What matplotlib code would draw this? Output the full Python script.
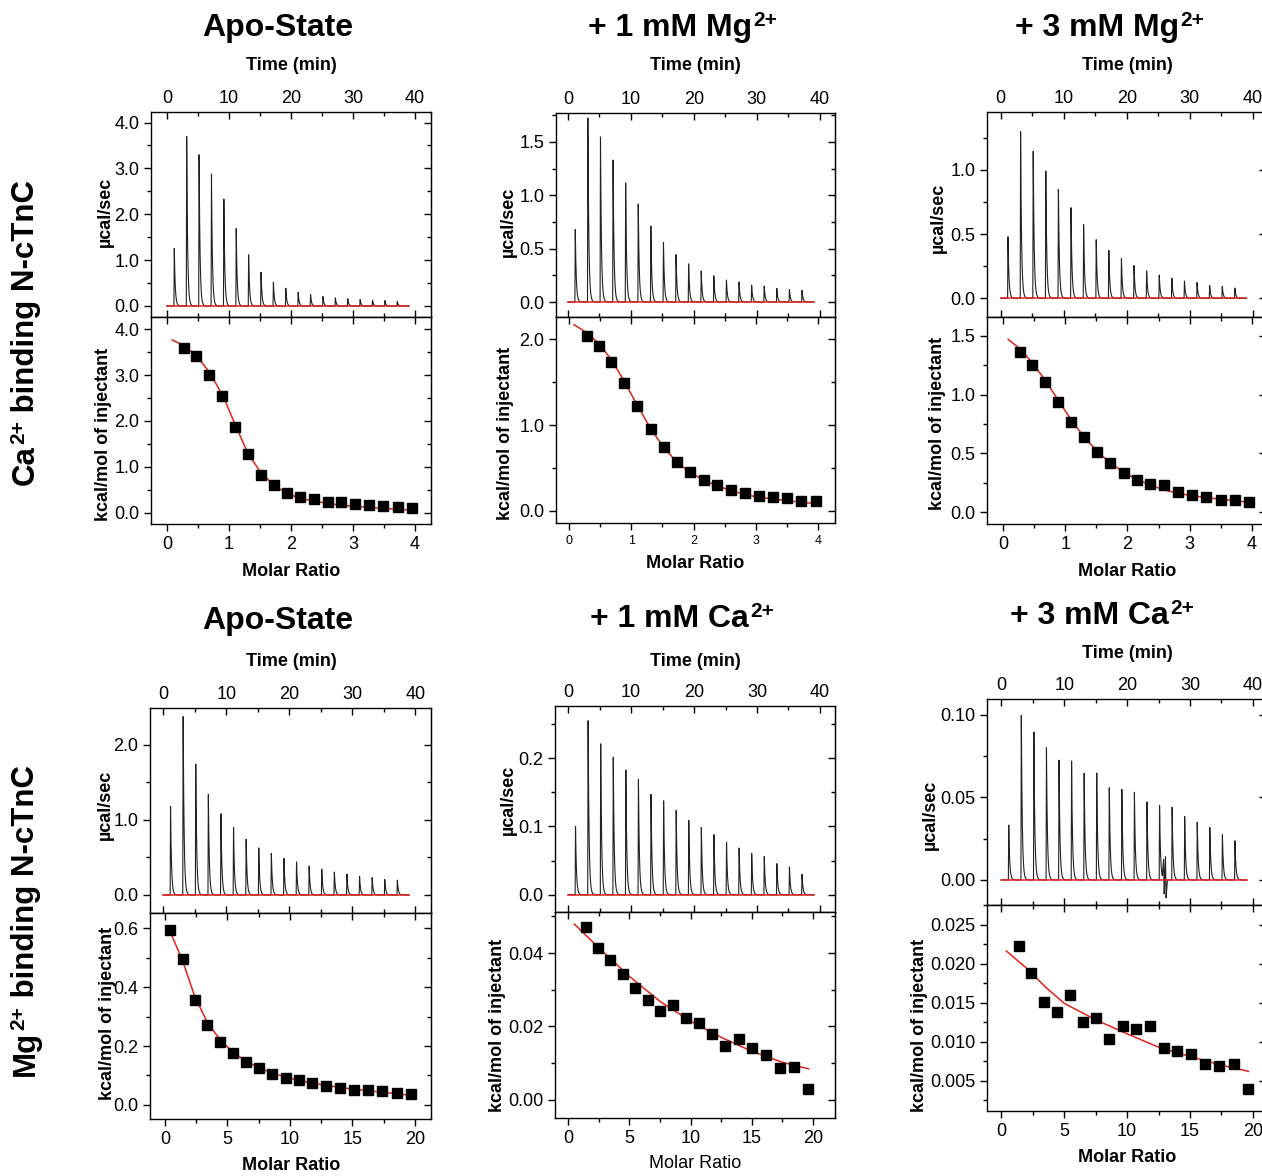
import numpy as np
import matplotlib
matplotlib.use("Agg")
import matplotlib.pyplot as plt
from matplotlib.ticker import MultipleLocator, FormatStrFormatter, NullFormatter

plt.rcParams['font.family'] = ['Liberation Sans', 'DejaVu Sans']

W, H = 1262, 1176

# injection times (min) and length of each run
inj_times = [1.1, 3.1, 5.1, 7.1, 9.1, 11.1, 13.1, 15.1, 17.1, 19.1,
             21.1, 23.1, 25.1, 27.1, 29.1, 31.1, 33.1, 35.1, 37.1]
run_span = [0.0, 39.0]

# ---- Ca2+ binding N-cTnC (top row) ----
ca_apo_peaks = [1.26, 3.73, 3.37, 2.92, 2.35, 1.69, 1.13, 0.75, 0.52, 0.39,
                0.30, 0.25, 0.21, 0.18, 0.16, 0.14, 0.13, 0.12, 0.10]
ca_apo_x = [0.27, 0.47, 0.68, 0.88, 1.09, 1.30, 1.51, 1.72, 1.94, 2.15,
            2.37, 2.59, 2.81, 3.04, 3.26, 3.49, 3.73, 3.96]
ca_apo_y = [3.60, 3.42, 3.00, 2.55, 1.86, 1.27, 0.83, 0.60, 0.43, 0.33,
            0.29, 0.22, 0.22, 0.18, 0.17, 0.15, 0.13, 0.09]
ca_apo_fit_x = [0.08, 0.27, 0.48, 0.69, 0.90, 1.09, 1.30, 1.51, 1.72, 1.93,
                2.15, 2.37, 2.60, 2.80, 3.00, 3.50, 3.95]
ca_apo_fit_y = [3.77, 3.65, 3.42, 3.05, 2.55, 1.95, 1.30, 0.88, 0.60, 0.42,
                0.31, 0.25, 0.20, 0.16, 0.14, 0.09, 0.05]

ca_mg1_peaks = [0.68, 1.74, 1.58, 1.35, 1.125, 0.92, 0.72, 0.57, 0.45, 0.36,
                0.29, 0.25, 0.21, 0.19, 0.16, 0.15, 0.13, 0.12, 0.11]
ca_mg1_x = [0.28, 0.48, 0.68, 0.88, 1.09, 1.31, 1.52, 1.73, 1.94, 2.16,
            2.38, 2.60, 2.83, 3.05, 3.28, 3.50, 3.73, 3.96]
ca_mg1_y = [2.04, 1.92, 1.73, 1.49, 1.22, 0.95, 0.74, 0.57, 0.45, 0.36,
            0.30, 0.24, 0.21, 0.17, 0.16, 0.15, 0.12, 0.12]
ca_mg1_fit_x = [0.08, 0.28, 0.48, 0.68, 0.88, 1.09, 1.31, 1.52, 1.73, 1.94,
                2.16, 2.38, 2.60, 2.83, 3.05, 3.50, 3.96]
ca_mg1_fit_y = [2.17, 2.08, 1.95, 1.76, 1.52, 1.24, 0.96, 0.74, 0.57, 0.45,
                0.36, 0.29, 0.24, 0.19, 0.16, 0.12, 0.085]

ca_mg3_peaks = [0.48, 1.31, 1.17, 1.005, 0.855, 0.706, 0.58, 0.465, 0.377, 0.31,
                0.255, 0.216, 0.184, 0.158, 0.135, 0.122, 0.10, 0.094, 0.08]
ca_mg3_x = [0.27, 0.47, 0.68, 0.89, 1.09, 1.30, 1.51, 1.72, 1.94, 2.15,
            2.37, 2.59, 2.82, 3.04, 3.27, 3.50, 3.73, 3.96]
ca_mg3_y = [1.36, 1.25, 1.11, 0.94, 0.77, 0.64, 0.51, 0.42, 0.33, 0.27,
            0.24, 0.23, 0.17, 0.145, 0.13, 0.10, 0.10, 0.09]
ca_mg3_fit_x = [0.08, 0.27, 0.47, 0.68, 0.89, 1.09, 1.30, 1.51, 1.72, 1.94,
                2.15, 2.37, 2.59, 2.82, 3.04, 3.50, 3.96]
ca_mg3_fit_y = [1.47, 1.39, 1.27, 1.12, 0.95, 0.79, 0.64, 0.52, 0.42, 0.34,
                0.28, 0.23, 0.19, 0.16, 0.14, 0.11, 0.085]

# ---- Mg2+ binding N-cTnC (bottom row) ----
mg_apo_peaks = [1.18, 2.40, 1.78, 1.36, 1.09, 0.90, 0.75, 0.64, 0.56, 0.49,
                0.44, 0.39, 0.35, 0.31, 0.28, 0.25, 0.235, 0.21, 0.20]
mg_apo_x = [0.40, 1.41, 2.37, 3.39, 4.43, 5.47, 6.51, 7.52, 8.59, 9.65,
            10.72, 11.81, 12.93, 14.03, 15.15, 16.29, 17.41, 18.56, 19.71]
mg_apo_y = [0.594, 0.497, 0.358, 0.272, 0.215, 0.177, 0.146, 0.125, 0.105, 0.093,
            0.083, 0.074, 0.065, 0.059, 0.052, 0.049, 0.048, 0.041, 0.036]
mg_apo_fit_x = [0.40, 1.41, 2.37, 3.39, 4.43, 5.47, 6.51, 7.52, 8.59, 9.65,
                10.72, 11.81, 12.93, 14.03, 15.15, 16.29, 17.41, 18.56, 19.87]
mg_apo_fit_y = [0.590, 0.490, 0.370, 0.280, 0.220, 0.178, 0.148, 0.126, 0.108, 0.094,
                0.083, 0.074, 0.066, 0.059, 0.053, 0.048, 0.043, 0.038, 0.031]

mg_ca1_peaks = [0.100, 0.2576, 0.2259, 0.2044, 0.1844, 0.1693, 0.1488, 0.1405, 0.1254, 0.1098,
                0.0985, 0.0893, 0.078, 0.0693, 0.061, 0.0561, 0.0463, 0.0415, 0.0302]
mg_ca1_x = [1.44, 2.42, 3.43, 4.44, 5.44, 6.48, 7.51, 8.54, 9.61, 10.67,
            11.76, 12.84, 13.93, 15.05, 16.16, 17.28, 18.42, 19.56]
mg_ca1_y = [0.0471, 0.0413, 0.0380, 0.0343, 0.0304, 0.0273, 0.0242, 0.0258, 0.0224, 0.0208,
            0.0179, 0.0147, 0.0165, 0.0141, 0.0121, 0.0087, 0.0090, 0.0030]
mg_ca1_fit_x = [0.49, 2.5, 5.0, 7.5, 10.0, 12.5, 15.0, 17.5, 19.65]
mg_ca1_fit_y = [0.0479, 0.0414, 0.0336, 0.0268, 0.0214, 0.0170, 0.0132, 0.0102, 0.0084]

mg_ca3_peaks = [0.0333, 0.1006, 0.0915, 0.0812, 0.0731, 0.0721, 0.0653, 0.0661, 0.0566, 0.0552,
                0.0531, 0.0479, 0.0461, 0.0446, 0.0386, 0.0349, 0.0323, 0.0279, 0.0240]
mg_ca3_x = [1.41, 2.39, 3.40, 4.41, 5.44, 6.48, 7.52, 8.58, 9.64, 10.70,
            11.79, 12.91, 14.00, 15.11, 16.23, 17.34, 18.51, 19.65]
mg_ca3_y = [0.02223, 0.01882, 0.01506, 0.01378, 0.01592, 0.01255, 0.01302, 0.01033, 0.01199, 0.01165,
            0.01199, 0.00922, 0.00875, 0.00845, 0.00709, 0.00688, 0.00709, 0.00398]
mg_ca3_fit_x = [0.4, 2.0, 3.5, 5.0, 7.5, 10.0, 12.5, 15.0, 17.5, 19.65]
mg_ca3_fit_y = [0.0216, 0.0194, 0.0170, 0.0149, 0.0128, 0.0110, 0.0093, 0.0081, 0.0070, 0.0062]
# short disturbance in the 3 mM Ca2+ run
mg_ca3_glitch_t = [25.6, 25.8, 25.9, 26.1, 26.2, 26.4]
mg_ca3_glitch_v = [0.0, 0.012, -0.009, 0.014, -0.011, 0.0]

RED = "#e3211c"

panels = [
    # top row
    dict(title="Apo-State", sup=None, peaks=ca_apo_peaks, x=ca_apo_x, y=ca_apo_y, fx=ca_apo_fit_x, fy=ca_apo_fit_y,
         cols=(151, 431), rows=(112, 317, 524), tlim=(-2.6, 42.6), plim=(-0.24, 4.23), pmaj=1.0, pfmt="%.1f",
         xlim=(-0.26, 4.26), xmaj=1, ylim=(-0.25, 4.27), ymaj=1.0, yfmt="%.1f", xts=13,
         ttl=(278, 36), tm=(291, 65), mr=(291, 571), mrbold=True, ul=(105, 212), kl=(104, 434)),
    dict(title="+ 1 mM Mg", sup="2+", peaks=ca_mg1_peaks, x=ca_mg1_x, y=ca_mg1_y, fx=ca_mg1_fit_x, fy=ca_mg1_fit_y,
         cols=(556, 835), rows=(113, 317, 523), tlim=(-1.9, 42.4), plim=(-0.14, 1.77), pmaj=0.5, pfmt="%.1f",
         xlim=(-0.21, 4.27), xmaj=1, ylim=(-0.14, 2.26), ymaj=1.0, yfmt="%.1f", xts=9,
         ttl=(588, 36), tm=(695, 65), mr=(695, 563), mrbold=True, ul=(508, 222), kl=(505, 433)),
    dict(title="+ 3 mM Mg", sup="2+", peaks=ca_mg3_peaks, x=ca_mg3_x, y=ca_mg3_y, fx=ca_mg3_fit_x, fy=ca_mg3_fit_y,
         cols=(987, 1266), rows=(112, 317, 524), tlim=(-2.17, 42.1), plim=(-0.146, 1.45), pmaj=0.5, pfmt="%.1f",
         xlim=(-0.26, 4.23), xmaj=1, ylim=(-0.10, 1.66), ymaj=0.5, yfmt="%.1f", xts=13,
         ttl=(1015, 36), tm=(1127, 66), mr=(1127, 571), mrbold=True, ul=(938, 218), kl=(938, 423)),
    # bottom row
    dict(title="Apo-State", sup=None, peaks=mg_apo_peaks, x=mg_apo_x, y=mg_apo_y, fx=mg_apo_fit_x, fy=mg_apo_fit_y,
         cols=(150, 431), rows=(708, 913, 1119), tlim=(-2.1, 42.5), plim=(-0.24, 2.49), pmaj=1.0, pfmt="%.1f",
         xlim=(-1.2, 21.3), xmaj=5, ylim=(-0.048, 0.652), ymaj=0.2, yfmt="%.1f", xts=13,
         ttl=(278, 629), tm=(291, 662), mr=(291, 1166), mrbold=True, ul=(105, 805), kl=(107, 1013)),
    dict(title="+ 1 mM Ca", sup="2+", peaks=mg_ca1_peaks, x=mg_ca1_x, y=mg_ca1_y, fx=mg_ca1_fit_x, fy=mg_ca1_fit_y,
         cols=(555, 835), rows=(706, 912, 1118), tlim=(-2.1, 42.4), plim=(-0.0253, 0.2765), pmaj=0.1, pfmt="%.1f",
         xlim=(-1.09, 21.8), xmaj=5, ylim=(-0.005, 0.0512), ymaj=0.02, yfmt="%.2f", xts=13,
         ttl=(590, 627), tm=(695, 661), mr=(695, 1163), mrbold=False, ul=(508, 800), kl=(498, 1025)),
    dict(title="+ 3 mM Ca", sup="2+", peaks=mg_ca3_peaks, x=mg_ca3_x, y=mg_ca3_y, fx=mg_ca3_fit_x, fy=mg_ca3_fit_y,
         cols=(987, 1266), rows=(699, 905, 1111), tlim=(-2.3, 42.1), plim=(-0.01515, 0.1095), pmaj=0.05, pfmt="%.2f",
         xlim=(-1.15, 21.05), xmaj=5, ylim=(0.00112, 0.0275), ymaj=0.005, yfmt="%.3f", xts=13,
         ttl=(1010, 624), tm=(1127, 654), mr=(1127, 1158), mrbold=True, ul=(930, 815), kl=(920, 1025),
         glitch=(mg_ca3_glitch_t, mg_ca3_glitch_v)),
]

row_labels = [("Ca", "2+", " binding N-cTnC", 485), ("Mg", "2+", " binding N-cTnC", 1076)]

fig = plt.figure(figsize=(W / 100, H / 100), dpi=100)

# full-figure layer for free text, data units = image pixels (y down)
bg = fig.add_axes([0, 0, 1, 1], zorder=-1)
bg.axis("off")
bg.set_xlim(0, W)
bg.set_ylim(H, 0)


def rect(x0, x1, y0, y1):
    return [x0 / W, 1 - y1 / H, (x1 - x0) / W, (y1 - y0) / H]


def add_ticks(ax, xmaj, ymaj, label_x_top):
    ax.xaxis.set_major_locator(MultipleLocator(xmaj))
    ax.xaxis.set_minor_locator(MultipleLocator(xmaj / 2))
    ax.yaxis.set_major_locator(MultipleLocator(ymaj))
    ax.yaxis.set_minor_locator(MultipleLocator(ymaj / 2))
    ax.tick_params(axis="y", which="both", direction="out", left=True, right=False, labelsize=13)
    ax.tick_params(which="major", length=5, width=1)
    ax.tick_params(which="minor", length=3, width=1)
    sy = ax.secondary_yaxis("right")
    sy.yaxis.set_major_locator(MultipleLocator(ymaj))
    sy.yaxis.set_minor_locator(MultipleLocator(ymaj / 2))
    sy.yaxis.set_major_formatter(NullFormatter())
    sy.tick_params(which="both", direction="in", width=1)
    sy.tick_params(which="major", length=5)
    sy.tick_params(which="minor", length=3)
    if label_x_top:
        ax.tick_params(axis="x", which="both", direction="in", top=True, bottom=True,
                       labeltop=True, labelbottom=False, labelsize=13)
    else:
        ax.tick_params(axis="x", which="both", direction="out", top=False, bottom=True)
        sx = ax.secondary_xaxis("top")
        sx.xaxis.set_major_locator(MultipleLocator(xmaj))
        sx.xaxis.set_minor_locator(MultipleLocator(xmaj / 2))
        sx.xaxis.set_major_formatter(NullFormatter())
        sx.tick_params(which="both", direction="in", width=1)
        sx.tick_params(which="major", length=5)
        sx.tick_params(which="minor", length=3)


t = np.linspace(run_span[0], run_span[1], 8000)
rise, tau = 0.06, 0.15

for p in panels:
    x0, x1 = p["cols"]
    y0, ym, y1 = p["rows"]

    # raw power trace
    ax_t = fig.add_axes(rect(x0, x1, y0, ym))
    trace = np.zeros_like(t)
    for ti, hi in zip(inj_times, p["peaks"]):
        dt = t - ti
        shape = np.where(dt < 0, 0.0, np.where(dt < rise, dt / rise, np.exp(-(dt - rise) / tau)))
        trace += hi * shape
    if "glitch" in p:
        gt, gv = p["glitch"]
        trace += np.interp(t, gt, gv, left=0.0, right=0.0)
    ax_t.plot(t, trace, color="#222222", lw=0.8)
    ax_t.plot(run_span, [0, 0], color=RED, lw=1.1)
    ax_t.set_xlim(p["tlim"])
    ax_t.set_ylim(p["plim"])
    add_ticks(ax_t, 10, p["pmaj"], True)
    ax_t.yaxis.set_major_formatter(FormatStrFormatter(p["pfmt"]))

    # integrated heats
    ax_i = fig.add_axes(rect(x0, x1, ym, y1))
    ax_i.plot(p["fx"], p["fy"], color=RED, lw=1.1, zorder=2)
    ax_i.plot(p["x"], p["y"], ls="none", marker="s", ms=7, color="black", zorder=3)
    ax_i.set_xlim(p["xlim"])
    ax_i.set_ylim(p["ylim"])
    add_ticks(ax_i, p["xmaj"], p["ymaj"], False)
    ax_i.yaxis.set_major_formatter(FormatStrFormatter(p["yfmt"]))
    ax_i.tick_params(axis="x", labelsize=p["xts"])

    for ax in (ax_t, ax_i):
        for s in ax.spines.values():
            s.set_linewidth(1.0)

    # titles (superscript drawn as its own smaller text)
    tx, ty = p["ttl"]
    if p["sup"] is None:
        bg.text(tx, ty, p["title"], ha="center", va="baseline", fontsize=23, fontweight="bold")
    else:
        main = bg.text(tx, ty, p["title"], ha="left", va="baseline", fontsize=23, fontweight="bold")
        bg.annotate(p["sup"], xy=(1.0, ty - 10), xycoords=(main, "data"), xytext=(1, 0),
                    textcoords="offset points", ha="left", va="baseline", fontsize=15, fontweight="bold")

    bg.text(*p["tm"], "Time (min)", ha="center", va="center", fontsize=13, fontweight="bold")
    bg.text(*p["mr"], "Molar Ratio", ha="center", va="center", fontsize=13,
            fontweight="bold" if p["mrbold"] else "normal")
    bg.text(*p["ul"], "µcal/sec", ha="center", va="center", fontsize=13, fontweight="bold", rotation=90)
    bg.text(*p["kl"], "kcal/mol of injectant", ha="center", va="center", fontsize=13,
            fontweight="bold", rotation=90)

# row labels, rotated, with raised "2+"
for ion, sup, rest, ystart in row_labels:
    kw = dict(rotation=90, rotation_mode="anchor", ha="left", va="baseline", fontweight="bold")
    a = bg.text(34, ystart, ion, fontsize=22.5, **kw)
    b = bg.annotate(sup, xy=(34 - 10, 1.0), xycoords=("data", a), xytext=(0, 0.5),
                    textcoords="offset points", fontsize=15, **kw)
    bg.annotate(rest, xy=(34, 1.0), xycoords=("data", b), fontsize=22.5, **kw)

fig.savefig("out.png", dpi=100)
